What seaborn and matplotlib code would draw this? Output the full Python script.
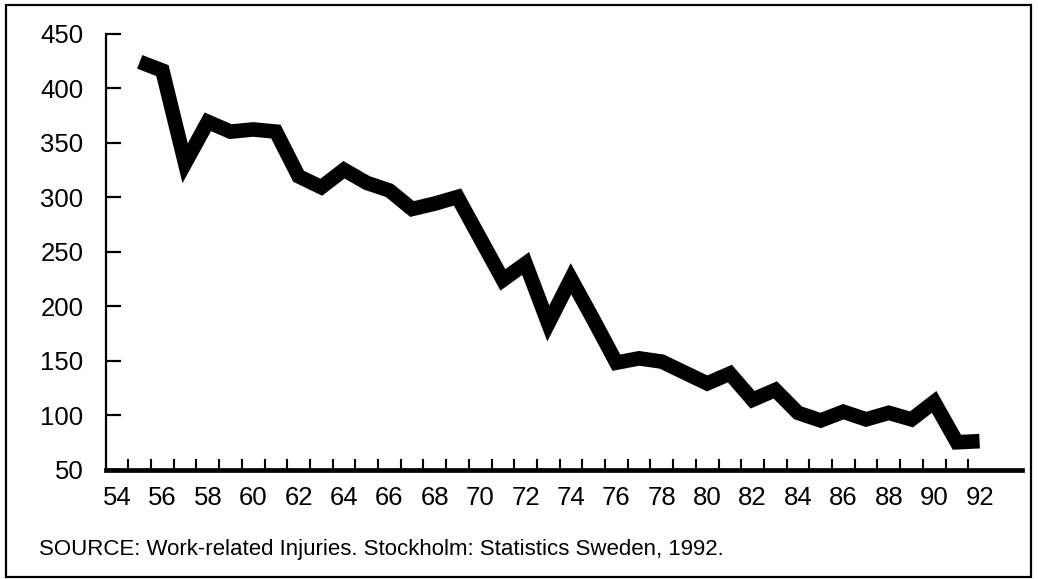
import matplotlib
matplotlib.use("Agg")
import matplotlib.pyplot as plt
import matplotlib.patches as mpatches
from matplotlib.ticker import FixedLocator
import seaborn as sns
import pandas as pd

years = list(range(55, 93))
injuries = [424, 416, 331, 369, 360, 362, 360, 319, 309, 325,
            313, 306, 289, 294, 300, 262, 224, 239, 184, 225,
            187, 148, 152, 149, 139, 129, 138, 114, 123, 102,
            95, 103, 96, 102, 96, 112, 75, 76]
x_labels = list(range(54, 93, 2))
y_labels = list(range(50, 451, 50))
source_text = "SOURCE: Work-related Injuries. Stockholm: Statistics Sweden, 1992."

sns.set_theme(style="white")
plt.rcParams['font.family'] = ['Liberation Sans', 'DejaVu Sans']

df = pd.DataFrame({"year": years, "value": injuries})

fig = plt.figure(figsize=(10.38, 5.79), dpi=100)
ax = fig.add_axes([0.1018, 0.1891, 0.9846 - 0.1018, 0.9421 - 0.1891])

sns.lineplot(data=df, x="year", y="value", ax=ax, color="black",
             linewidth=10.5, solid_joinstyle="miter", solid_capstyle="butt")

ax.set_xlim(53.5, 93.87)
ax.set_ylim(50, 450)
ax.set_xticks(x_labels)
ax.set_xticklabels([str(v) for v in x_labels])
# year-boundary tick marks (labels sit centred between them)
ax.xaxis.set_minor_locator(FixedLocator([y - 0.5 for y in range(55, 93)]))
ax.set_yticks(y_labels)
ax.set_yticklabels([str(v) for v in y_labels])
ax.set_xlabel("")
ax.set_ylabel("")

for s in ["top", "right"]:
    ax.spines[s].set_visible(False)
ax.spines["left"].set_linewidth(1.6)
ax.spines["left"].set_color("black")
ax.spines["bottom"].set_linewidth(3.4)
ax.spines["bottom"].set_color("black")

ax.tick_params(axis="y", which="major", left=True, direction="in", length=11,
               width=1.6, colors="black", labelsize=18.5, pad=16)
ax.tick_params(axis="x", which="major", bottom=True, direction="in", length=0,
               width=0, colors="black", labelsize=18.5, pad=12)
ax.tick_params(axis="x", which="minor", bottom=True, direction="in", length=8,
               width=1.5, colors="black")
ax.set_facecolor("white")

fig.text(39 / 1038, 1 - 555 / 579, source_text, fontsize=16,
         ha="left", va="baseline", color="black")

border = mpatches.Rectangle((6 / 1038, 1 - 577 / 579), (1031 - 6) / 1038,
                            (577 - 5) / 579, transform=fig.transFigure,
                            fill=False, edgecolor="black", linewidth=1.6)
fig.patches.append(border)

fig.savefig("out.png", dpi=100, facecolor="white")
